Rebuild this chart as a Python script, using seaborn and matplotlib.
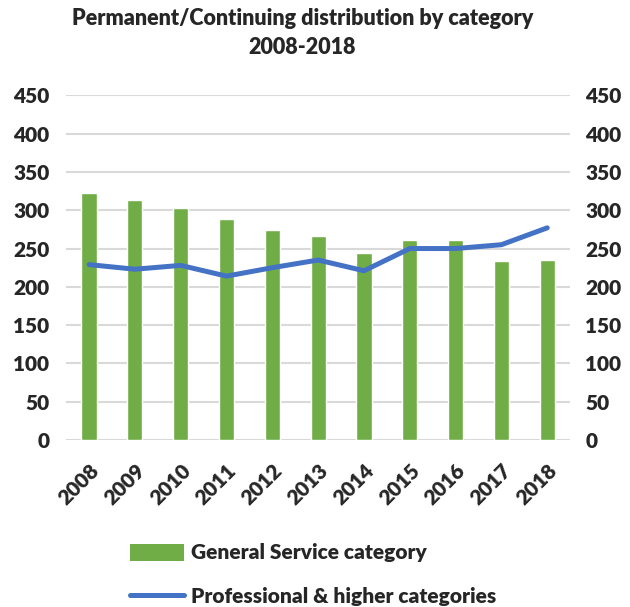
import numpy as np
import pandas as pd
import matplotlib
matplotlib.use('Agg')
import matplotlib.pyplot as plt
import seaborn as sns
from matplotlib.patches import Patch
from matplotlib.lines import Line2D

years = ['2008', '2009', '2010', '2011', '2012', '2013', '2014', '2015', '2016', '2017', '2018']
general_service = [322, 313, 303, 288, 274, 267, 244, 261, 261, 234, 235]
professional = [229, 223, 228, 214, 225, 235, 221, 250, 250, 255, 277]
y_ticks = [0, 50, 100, 150, 200, 250, 300, 350, 400, 450]

title = 'Permanent/Continuing distribution by category\n2008-2018'
label_gs = 'General Service category'
label_pro = 'Professional & higher categories'

green = '#70AD47'
blue = '#4472C4'
grid_col = '#D9D9D9'
fw = 'heavy'

sns.set_style('white')
plt.rcParams['font.family'] = ['Lato', 'DejaVu Sans']

df = pd.DataFrame({'year': years, 'gs': general_service, 'pro': professional})
df['pos'] = np.arange(len(df))

fig = plt.figure(figsize=(6.3, 6.07), dpi=100)
ax = fig.add_axes([0.105, 0.275, 0.80, 0.568])

sns.barplot(data=df, x='year', y='gs', color=green, width=0.33, saturation=1, ax=ax)
sns.lineplot(data=df, x='pos', y='pro', color=blue, lw=3.6, ax=ax)

ax.set_xlim(-0.5, len(years) - 0.5)
ax.set_ylim(0, 450)
ax.set_yticks(y_ticks)
ax.set_yticklabels([str(t) for t in y_ticks], fontsize=15, fontweight=fw)
ax.set_xticks(df['pos'])
ax.set_xticklabels(years, rotation=45, ha='right', rotation_mode='anchor', fontsize=15, fontweight=fw)
ax.set_xlabel('')
ax.set_ylabel('')
ax.yaxis.grid(True, color=grid_col, lw=1.5)
ax.set_axisbelow(True)
for s in ax.spines.values():
    s.set_visible(False)
ax.tick_params(axis='y', length=0, pad=12)
ax.tick_params(axis='x', length=0, pad=15)

ax2 = ax.twinx()
ax2.set_ylim(0, 450)
ax2.set_yticks(y_ticks)
ax2.set_yticklabels([str(t) for t in y_ticks], fontsize=15, fontweight=fw)
ax2.tick_params(axis='y', length=0, pad=11)
for s in ax2.spines.values():
    s.set_visible(False)
ax2.grid(False)

fig.suptitle(title, x=0.48, y=0.987, fontsize=15.5, fontweight=fw, linespacing=1.5)

handles = [Patch(facecolor=green, edgecolor='none'), Line2D([0], [0], color=blue, lw=3.6)]
fig.legend(handles, [label_gs, label_pro], loc='upper left', bbox_to_anchor=(0.19, 0.122),
           frameon=False, borderpad=0, handlelength=2.6, handleheight=0.9, labelspacing=1.2,
           handletextpad=0.3, prop={'size': 15, 'weight': fw})

fig.savefig('out.png', dpi=100)
